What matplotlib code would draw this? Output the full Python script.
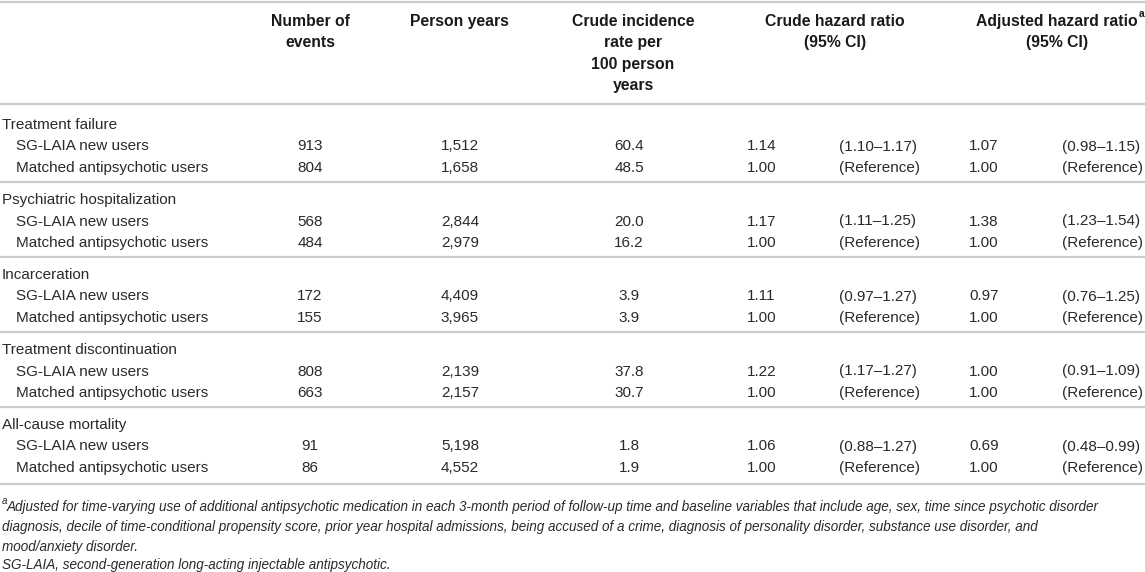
import matplotlib
matplotlib.use("Agg")
import matplotlib.pyplot as plt

# table values
groups = ["Treatment failure", "Psychiatric hospitalization", "Incarceration",
          "Treatment discontinuation", "All-cause mortality"]
arms = ["SG-LAIA new users", "Matched antipsychotic users"]
events_new = [913, 568, 172, 808, 91]
events_matched = [804, 484, 155, 663, 86]
py_new = [1512, 2844, 4409, 2139, 5198]
py_matched = [1658, 2979, 3965, 2157, 4552]
rate_new = [60.4, 20.0, 3.9, 37.8, 1.8]
rate_matched = [48.5, 16.2, 3.9, 30.7, 1.9]
crude_hr = [1.14, 1.17, 1.11, 1.22, 1.06]
crude_ci = [(1.10, 1.17), (1.11, 1.25), (0.97, 1.27), (1.17, 1.27), (0.88, 1.27)]
adj_hr = [1.07, 1.38, 0.97, 1.00, 0.69]
adj_ci = [(0.98, 1.15), (1.23, 1.54), (0.76, 1.25), (0.91, 1.09), (0.48, 0.99)]

headers = [["Number of", "events"], ["Person years"],
           ["Crude incidence", "rate per", "100 person", "years"],
           ["Crude hazard ratio", "(95% CI)"], ["Adjusted hazard ratio", "(95% CI)"]]
footnotes = [
    "Adjusted for time-varying use of additional antipsychotic medication in each 3-month period of follow-up time and baseline variables that include age, sex, time since psychotic disorder",
    "diagnosis, decile of time-conditional propensity score, prior year hospital admissions, being accused of a crime, diagnosis of personality disorder, substance use disorder, and",
    "mood/anxiety disorder.",
    "SG-LAIA, second-generation long-acting injectable antipsychotic.",
]

FONT = ["Liberation Sans", "DejaVu Sans"]
TXT = "#2a2a2a"
HEAD = "#1a1a1a"
LINE = "#cbcbcb"
FS = 11.0
HFS = 11.3

fig = plt.figure(figsize=(11.45, 5.72), dpi=100)
ax = fig.add_axes([0, 0, 1, 1])
ax.set_xlim(0, 1145)
ax.set_ylim(572, 0)
ax.axis("off")


def t(x, y, s, **kw):
    kw.setdefault("fontsize", FS)
    kw.setdefault("family", FONT)
    kw.setdefault("color", TXT)
    kw.setdefault("va", "center_baseline")
    return ax.text(x, y, s, **kw)


# header, one text per line
head_x = [310, 459, 633, 835, 1057]
head_y0 = 20
for x, lines in zip(head_x, headers):
    for i, s in enumerate(lines):
        t(x, head_y0 + i * 21.3, s, ha="center", fontsize=HFS, fontweight="bold", color=HEAD)

# superscript a after "Adjusted hazard ratio"
fig.canvas.draw()
rend = fig.canvas.get_renderer()
adj = [tx for tx in ax.texts if tx.get_text() == "Adjusted hazard ratio"][0]
bb = adj.get_window_extent(rend).transformed(ax.transData.inverted())
t(bb.x1 + 0.5, head_y0 - 6, "a", fontsize=7.5, va="center",
  ha="left", fontweight="bold", color=HEAD)

# rules
rules = [1.5, 104, 182, 257, 332, 407, 484]
for y in rules:
    ax.axhline(y, color=LINE, lw=1.6)

fmt_ci = lambda c: "({:.2f}\u2013{:.2f})".format(*c)
for g, name in enumerate(groups):
    base = rules[g + 1] + (3 if g == 0 else 0)
    t(2, base + 16.5, name)
    rows = [
        (events_new[g], py_new[g], rate_new[g], crude_hr[g], fmt_ci(crude_ci[g]), adj_hr[g], fmt_ci(adj_ci[g])),
        (events_matched[g], py_matched[g], rate_matched[g], 1.00, "(Reference)", 1.00, "(Reference)"),
    ]
    for r, (arm, vals) in enumerate(zip(arms, rows)):
        y = base + 38 + r * 21.5
        ev, py, rate, hr, ci, ahr, aci = vals
        t(16, y, arm)
        t(310, y, str(ev), ha="center")
        t(460, y, "{:,}".format(py), ha="center")
        t(629, y, "{:.1f}".format(rate), ha="center")
        t(747, y, "{:.2f}".format(hr), ha="left")
        t(839, y, ci, ha="left")
        t(969, y, "{:.2f}".format(ahr), ha="left")
        t(1062, y, aci, ha="left")

# footnotes
fy = [505, 525, 545, 564]
for i, (y, s) in enumerate(zip(fy, footnotes)):
    x = 2
    if i == 0:
        t(1.5, y - 5, "a", fontsize=7, style="italic")
        x = 6.5
    t(x, y, s, fontsize=9.75, style="italic")

fig.savefig("out.png", dpi=100)
